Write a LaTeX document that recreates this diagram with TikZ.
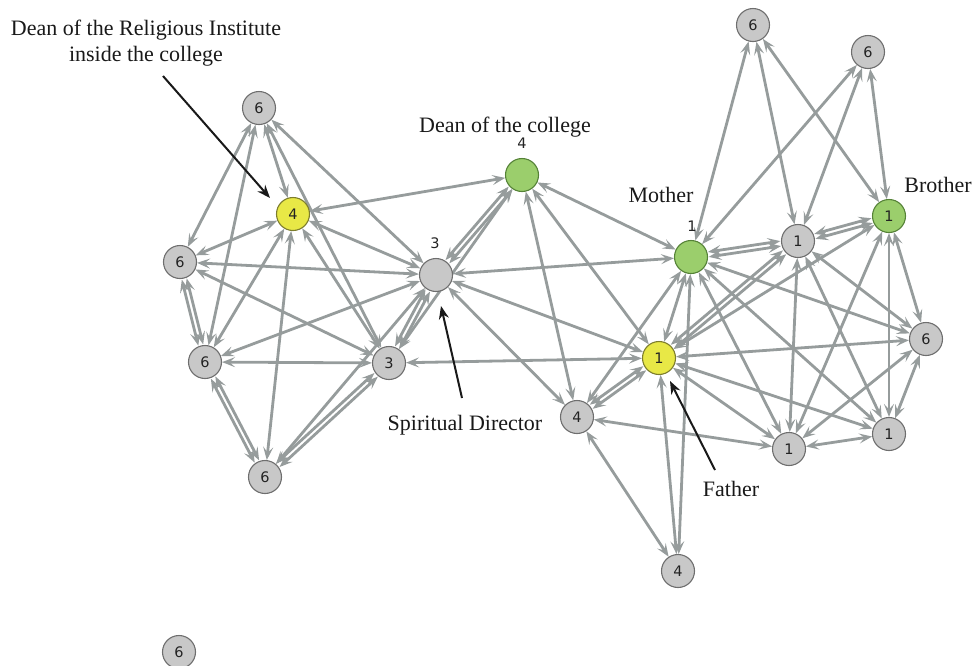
\documentclass[tikz,border=0pt]{standalone}
\usepackage{fontspec}
\setmainfont{Liberation Serif}
\newfontfamily\numfont{DejaVu Sans}
\usetikzlibrary{arrows.meta,backgrounds,calc}
\definecolor{edgegray}{RGB}{150,156,156}
\definecolor{nodegray}{RGB}{200,200,200}
\definecolor{nodeborder}{RGB}{110,110,110}
\definecolor{yfill}{RGB}{232,232,70}
\definecolor{yborder}{RGB}{125,125,45}
\definecolor{gfill}{RGB}{155,206,108}
\definecolor{gborder}{RGB}{85,130,55}
\definecolor{numcol}{RGB}{35,35,35}
\tikzset{
  vtx/.style={circle,draw=nodeborder,fill=nodegray,line width=1.1pt,minimum size=33pt,inner sep=0pt,
    font=\numfont\fontsize{14.5}{14.5}\selectfont,text=numcol},
  yvtx/.style={vtx,draw=yborder,fill=yfill},
  gvtx/.style={vtx,draw=gborder,fill=gfill},
  edge/.style={draw=edgegray,line width=2.8pt,<->,>={Stealth[length=13pt,width=10pt,inset=5.5pt]}},
  numlab/.style={font=\numfont\fontsize{14.5}{14.5}\selectfont,text=numcol},
  caption/.style={font=\fontsize{22}{26}\selectfont,text=black!90,align=center},
  pointer/.style={draw=black!90,line width=2pt,-{Stealth[length=13pt,width=10pt]}}
}
\newcommand\twoedge[2]{%
  \draw[edge,shorten <=17.5pt,shorten >=17.5pt] ($(#1.center)!2.5pt!90:(#2.center)$) -- ($(#2.center)!2.5pt!-90:(#1.center)$);
  \draw[edge,shorten <=17.5pt,shorten >=17.5pt] ($(#1.center)!2.5pt!-90:(#2.center)$) -- ($(#2.center)!2.5pt!90:(#1.center)$);}
\begin{document}
\begin{tikzpicture}[x=1pt,y=-1pt]
\useasboundingbox (0,0) rectangle (978,665);
% nodes
\node[vtx]  (t6) at (259,108) {6};
\node[yvtx] (y4) at (293,214) {4};
\node[vtx]  (m6) at (180,262) {6};
\node[vtx]  (s3) at (436,275) {};
\node[vtx]  (l6) at (205,362) {6};
\node[vtx]  (c3) at (389,363) {3};
\node[vtx]  (b6) at (265,477) {6};
\node[gvtx] (g4) at (522,175) {};
\node[gvtx] (mo) at (691,257) {};
\node[yvtx] (fa) at (659,358) {1};
\node[vtx]  (m4) at (577,417) {4};
\node[vtx]  (b4) at (678,571) {4};
\node[vtx]  (ta) at (753,25) {6};
\node[vtx]  (tb) at (868,52) {6};
\node[vtx]  (r1) at (798,241) {1};
\node[gvtx] (br) at (889,216) {1};
\node[vtx]  (r6) at (926,339) {6};
\node[vtx]  (ra) at (789,449) {1};
\node[vtx]  (rb) at (889,434) {1};
\node[vtx]  (iso) at (179,652) {6};
% number labels above nodes
\node[numlab] (s3n) at (435,243) {3};
\node[numlab] (g4n) at (522,143) {4};
\node[numlab] (mon) at (692,226) {1};
% captions
\node[caption] (cdri) at (146,43) {Dean of the Religious Institute\\inside the college};
\node[caption] (cdc) at (505,127) {Dean of the college};
\node[caption] (cmo) at (661,195) {Mother};
\node[caption] (cbr) at (938,185) {Brother};
\node[caption] (csd) at (465,425) {Spiritual Director};
\node[caption] (cfa) at (731,489) {Father};
% pointer coordinates
\coordinate (p1a) at (163,76);
\coordinate (p1b) at (270,198);
\coordinate (p2a) at (462,398);
\coordinate (p2b) at (441,306);
\coordinate (p3a) at (715,470);
\coordinate (p3b) at (670,381);
\draw[pointer] (p1a) -- (p1b);
\draw[pointer] (p2a) -- (p2b);
\draw[pointer] (p3a) -- (p3b);
\begin{scope}[on background layer]
% left cluster
\draw[edge] (t6) -- (m6);
\draw[edge] (t6) -- (l6);
\draw[edge] (t6) -- (y4);
\draw[edge] (t6) -- (c3);
\draw[edge] (t6) -- (s3);
\draw[edge] (y4) -- (m6);
\draw[edge] (y4) -- (l6);
\draw[edge] (y4) -- (b6);
\draw[edge] (y4) -- (c3);
\draw[edge] (y4) -- (s3);
\draw[edge] (y4) -- (g4);
\draw[edge] (m6) -- (s3);
\draw[edge] (m6) -- (c3);
\twoedge{m6}{l6}
\draw[edge] (l6) -- (s3);
\draw[edge] (l6) -- (c3);
\twoedge{l6}{b6}
\twoedge{b6}{c3}
\draw[edge] (b6) -- (s3);
\twoedge{c3}{s3}
\draw[edge] (c3) -- (g4);
\twoedge{s3}{g4}
% middle
\draw[edge] (g4) -- (m4);
\draw[edge] (g4) -- (fa);
\draw[edge] (g4) -- (mo);
\draw[edge] (s3) -- (mo);
\draw[edge] (s3) -- (fa);
\draw[edge] (s3) -- (m4);
\draw[edge] (fa) -- (c3);
\twoedge{fa}{m4}
\draw[edge] (mo) -- (m4);
\draw[edge] (mo) -- (fa);
\draw[edge] (mo) -- (b4);
\draw[edge] (fa) -- (b4);
\draw[edge] (m4) -- (b4);
\draw[edge] (m4) -- (ra);
% right cluster
\draw[edge] (ta) -- (mo);
\draw[edge] (ta) -- (r1);
\draw[edge] (ta) -- (br);
\draw[edge] (tb) -- (mo);
\draw[edge] (tb) -- (r1);
\draw[edge] (tb) -- (br);
\twoedge{mo}{r1}
\twoedge{r1}{br}
\twoedge{fa}{r1}
\draw[edge] (fa) -- (br);
\draw[edge] (fa) -- (r6);
\draw[edge] (fa) -- (ra);
\draw[edge] (fa) -- (rb);
\draw[edge] (mo) -- (ra);
\draw[edge] (mo) -- (rb);
\draw[edge] (mo) -- (r6);
\draw[edge] (r1) -- (ra);
\draw[edge] (r1) -- (rb);
\draw[edge] (r1) -- (r6);
\draw[edge] (br) -- (ra);
\draw[edge] (br) -- (rb);
\draw[edge] (br) -- (r6);
\draw[edge] (ra) -- (rb);
\draw[edge] (ra) -- (r6);
\draw[edge] (rb) -- (r6);
\end{scope}
\end{tikzpicture}
\end{document}
